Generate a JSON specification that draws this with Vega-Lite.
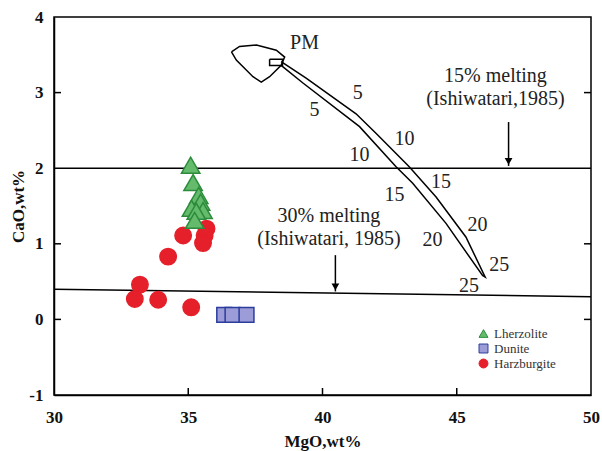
{
  "$schema": "https://vega.github.io/schema/vega-lite/v6.json",
  "width": 537,
  "height": 378,
  "autosize": {"type": "none"},
  "padding": {"left": 54, "top": 17, "right": 11, "bottom": 56},
  "background": "white",
  "config": {
    "view": {"stroke": "black", "strokeWidth": 1.5},
    "font": "Liberation Serif",
    "axis": {"grid": false, "ticks": false, "labelFlush": false, "domainColor": "black", "domainWidth": 1.5, "labelFont": "Liberation Serif", "labelFontWeight": "bold", "labelFontSize": 17, "labelColor": "#111", "titleFont": "Liberation Serif", "titleFontWeight": "bold", "titleFontSize": 17, "titleColor": "#111"}
  },
  "datasets": {
    "pts": [
      {"MgO": 34.81, "CaO": 1.11, "Rock": "Harzburgite"},
      {"MgO": 35.68, "CaO": 1.20, "Rock": "Harzburgite"},
      {"MgO": 35.61, "CaO": 1.11, "Rock": "Harzburgite"},
      {"MgO": 35.55, "CaO": 1.01, "Rock": "Harzburgite"},
      {"MgO": 34.25, "CaO": 0.83, "Rock": "Harzburgite"},
      {"MgO": 33.20, "CaO": 0.46, "Rock": "Harzburgite"},
      {"MgO": 33.01, "CaO": 0.27, "Rock": "Harzburgite"},
      {"MgO": 33.88, "CaO": 0.26, "Rock": "Harzburgite"},
      {"MgO": 35.11, "CaO": 0.16, "Rock": "Harzburgite"},
      {"MgO": 36.34, "CaO": 0.06, "Rock": "Dunite"},
      {"MgO": 36.65, "CaO": 0.06, "Rock": "Dunite"},
      {"MgO": 37.17, "CaO": 0.06, "Rock": "Dunite"},
      {"MgO": 35.09, "CaO": 2.04, "Rock": "Lherzolite"},
      {"MgO": 35.18, "CaO": 1.81, "Rock": "Lherzolite"},
      {"MgO": 35.39, "CaO": 1.64, "Rock": "Lherzolite"},
      {"MgO": 35.46, "CaO": 1.55, "Rock": "Lherzolite"},
      {"MgO": 35.12, "CaO": 1.47, "Rock": "Lherzolite"},
      {"MgO": 35.55, "CaO": 1.44, "Rock": "Lherzolite"},
      {"MgO": 35.30, "CaO": 1.43, "Rock": "Lherzolite"},
      {"MgO": 35.24, "CaO": 1.31, "Rock": "Lherzolite"}
    ],
    "paths": [
      {"g": "h2", "i": 0, "MgO": 30, "CaO": 2.0},
      {"g": "h2", "i": 1, "MgO": 50, "CaO": 2.0},
      {"g": "h0", "i": 0, "MgO": 30, "CaO": 0.40},
      {"g": "h0", "i": 1, "MgO": 50, "CaO": 0.30},
      {"g": "pm", "i": 0, "MgO": 36.61, "CaO": 3.54},
      {"g": "pm", "i": 1, "MgO": 36.91, "CaO": 3.61},
      {"g": "pm", "i": 2, "MgO": 37.54, "CaO": 3.63},
      {"g": "pm", "i": 3, "MgO": 38.28, "CaO": 3.56},
      {"g": "pm", "i": 4, "MgO": 38.59, "CaO": 3.47},
      {"g": "pm", "i": 5, "MgO": 38.46, "CaO": 3.36},
      {"g": "pm", "i": 6, "MgO": 38.03, "CaO": 3.21},
      {"g": "pm", "i": 7, "MgO": 37.72, "CaO": 3.14},
      {"g": "pm", "i": 8, "MgO": 37.41, "CaO": 3.21},
      {"g": "pm", "i": 9, "MgO": 36.79, "CaO": 3.43},
      {"g": "pm", "i": 10, "MgO": 36.61, "CaO": 3.54},
      {"g": "rc", "i": 0, "MgO": 38.03, "CaO": 3.44},
      {"g": "rc", "i": 1, "MgO": 38.51, "CaO": 3.44},
      {"g": "rc", "i": 2, "MgO": 38.51, "CaO": 3.36},
      {"g": "rc", "i": 3, "MgO": 38.03, "CaO": 3.36},
      {"g": "rc", "i": 4, "MgO": 38.03, "CaO": 3.44},
      {"g": "cv", "i": 0, "MgO": 38.46, "CaO": 3.41},
      {"g": "cv", "i": 1, "MgO": 39.39, "CaO": 3.19},
      {"g": "cv", "i": 2, "MgO": 41.25, "CaO": 2.72},
      {"g": "cv", "i": 3, "MgO": 42.00, "CaO": 2.46},
      {"g": "cv", "i": 4, "MgO": 43.23, "CaO": 2.02},
      {"g": "cv", "i": 5, "MgO": 44.23, "CaO": 1.62},
      {"g": "cv", "i": 6, "MgO": 45.34, "CaO": 1.09},
      {"g": "cv", "i": 7, "MgO": 46.06, "CaO": 0.56},
      {"g": "cv", "i": 8, "MgO": 45.96, "CaO": 0.58},
      {"g": "cv", "i": 9, "MgO": 44.60, "CaO": 1.27},
      {"g": "cv", "i": 10, "MgO": 43.36, "CaO": 1.80},
      {"g": "cv", "i": 11, "MgO": 42.74, "CaO": 2.02},
      {"g": "cv", "i": 12, "MgO": 41.38, "CaO": 2.55},
      {"g": "cv", "i": 13, "MgO": 39.26, "CaO": 3.13},
      {"g": "cv", "i": 14, "MgO": 38.46, "CaO": 3.36}
    ],
    "labels": [
      {"MgO": 39.33, "CaO": 3.66, "t": "PM"},
      {"MgO": 41.31, "CaO": 2.99, "t": "5"},
      {"MgO": 39.70, "CaO": 2.77, "t": "5"},
      {"MgO": 43.05, "CaO": 2.39, "t": "10"},
      {"MgO": 41.38, "CaO": 2.17, "t": "10"},
      {"MgO": 44.41, "CaO": 1.82, "t": "15"},
      {"MgO": 42.68, "CaO": 1.64, "t": "15"},
      {"MgO": 45.77, "CaO": 1.25, "t": "20"},
      {"MgO": 44.10, "CaO": 1.05, "t": "20"},
      {"MgO": 46.58, "CaO": 0.72, "t": "25"},
      {"MgO": 45.46, "CaO": 0.44, "t": "25"},
      {"MgO": 46.44, "CaO": 3.22, "t": "15% melting"},
      {"MgO": 46.44, "CaO": 2.92, "t": "(Ishiwatari,1985)"},
      {"MgO": 40.24, "CaO": 1.37, "t": "30% melting"},
      {"MgO": 40.24, "CaO": 1.06, "t": "(Ishiwatari, 1985)"}
    ],
    "arrows": [
      {"MgO": 46.93, "CaO": 2.61, "CaO2": 2.03},
      {"MgO": 40.48, "CaO": 0.85, "CaO2": 0.37}
    ],
    "tips": [
      {"MgO": 46.93, "CaO": 2.09},
      {"MgO": 40.48, "CaO": 0.43}
    ],
    "yticks": [
      {"MgO": 30, "MgO2": 30.26, "CaO": 0},
      {"MgO": 30, "MgO2": 30.26, "CaO": 1},
      {"MgO": 30, "MgO2": 30.26, "CaO": 3},
      {"MgO": 49.74, "MgO2": 50, "CaO": 0},
      {"MgO": 49.74, "MgO2": 50, "CaO": 1},
      {"MgO": 49.74, "MgO2": 50, "CaO": 3}
    ],
    "xticks": [
      {"MgO": 35, "CaO": -1, "CaO2": -0.907},
      {"MgO": 40, "CaO": -1, "CaO2": -0.907},
      {"MgO": 45, "CaO": -1, "CaO2": -0.907}
    ]
  },
  "encoding": {
    "x": {"field": "MgO", "type": "quantitative", "scale": {"domain": [30, 50], "nice": false, "zero": false}, "axis": {"title": "MgO,wt%", "values": [30, 35, 40, 45, 50], "labelExpr": "'' + datum.value", "labelPadding": 14, "titlePadding": 8}},
    "y": {"field": "CaO", "type": "quantitative", "scale": {"domain": [-1, 4], "nice": false, "zero": false}, "axis": {"title": "CaO,wt%", "values": [-1, 0, 1, 2, 3, 4], "labelExpr": "'' + datum.value", "labelPadding": 11, "titlePadding": 1}}
  },
  "layer": [
    {
      "data": {"name": "paths"},
      "mark": {"type": "line", "color": "black", "strokeWidth": 1.5},
      "encoding": {
        "detail": {"field": "g"},
        "order": {"field": "i", "type": "quantitative"}
      }
    },
    {
      "data": {"name": "yticks"},
      "mark": {"type": "rule", "color": "black", "strokeWidth": 1.5},
      "encoding": {"x2": {"field": "MgO2"}}
    },
    {
      "data": {"name": "xticks"},
      "mark": {"type": "rule", "color": "black", "strokeWidth": 1.5},
      "encoding": {"y2": {"field": "CaO2"}}
    },
    {
      "data": {"name": "arrows"},
      "mark": {"type": "rule", "color": "black", "strokeWidth": 1.5},
      "encoding": {
        "y2": {"field": "CaO2"}
      }
    },
    {
      "data": {"name": "tips"},
      "mark": {"type": "point", "shape": "triangle-down", "filled": true, "color": "black", "size": 60, "opacity": 1},
      "encoding": {}
    },
    {
      "data": {"name": "labels"},
      "mark": {"type": "text", "font": "Liberation Serif", "fontSize": 20, "color": "#222", "align": "center", "baseline": "middle"},
      "encoding": {
        "text": {"field": "t"}
      }
    },
    {
      "data": {"name": "pts"},
      "transform": [{"filter": "datum.Rock === 'Harzburgite'"}],
      "mark": {"type": "point", "filled": true, "opacity": 1, "strokeWidth": 1.5, "size": 270},
      "encoding": {
        "shape": {"field": "Rock", "type": "nominal", "scale": {"domain": ["Lherzolite", "Dunite", "Harzburgite"], "range": ["triangle-up", "square", "circle"]}, "legend": {"title": null, "orient": "none", "legendX": 423, "legendY": 310, "labelFont": "Liberation Serif", "labelFontSize": 13, "labelColor": "#333", "symbolSize": 80, "rowPadding": 1, "symbolStrokeWidth": 1}},
        "fill": {"field": "Rock", "type": "nominal", "scale": {"domain": ["Lherzolite", "Dunite", "Harzburgite"], "range": ["#64bb6c", "#9c9cd8", "#e5202a"]}},
        "stroke": {"field": "Rock", "type": "nominal", "scale": {"domain": ["Lherzolite", "Dunite", "Harzburgite"], "range": ["#2d8c3c", "#2b3d9c", "#e5202a"]}}
      }
    },
    {
      "data": {"name": "pts"},
      "transform": [{"filter": "datum.Rock === 'Dunite'"}],
      "mark": {"type": "point", "filled": true, "opacity": 1, "strokeWidth": 1.5, "size": 220},
      "encoding": {
        "shape": {"field": "Rock", "type": "nominal", "scale": {"domain": ["Lherzolite", "Dunite", "Harzburgite"], "range": ["triangle-up", "square", "circle"]}, "legend": {"title": null, "orient": "none", "legendX": 423, "legendY": 310, "labelFont": "Liberation Serif", "labelFontSize": 13, "labelColor": "#333", "symbolSize": 80, "rowPadding": 1, "symbolStrokeWidth": 1}},
        "fill": {"field": "Rock", "type": "nominal", "scale": {"domain": ["Lherzolite", "Dunite", "Harzburgite"], "range": ["#64bb6c", "#9c9cd8", "#e5202a"]}},
        "stroke": {"field": "Rock", "type": "nominal", "scale": {"domain": ["Lherzolite", "Dunite", "Harzburgite"], "range": ["#2d8c3c", "#2b3d9c", "#e5202a"]}}
      }
    },
    {
      "data": {"name": "pts"},
      "transform": [{"filter": "datum.Rock === 'Lherzolite'"}],
      "mark": {"type": "point", "filled": true, "opacity": 1, "strokeWidth": 1.5, "size": 340},
      "encoding": {
        "shape": {"field": "Rock", "type": "nominal", "scale": {"domain": ["Lherzolite", "Dunite", "Harzburgite"], "range": ["triangle-up", "square", "circle"]}, "legend": {"title": null, "orient": "none", "legendX": 423, "legendY": 310, "labelFont": "Liberation Serif", "labelFontSize": 13, "labelColor": "#333", "symbolSize": 80, "rowPadding": 1, "symbolStrokeWidth": 1}},
        "fill": {"field": "Rock", "type": "nominal", "scale": {"domain": ["Lherzolite", "Dunite", "Harzburgite"], "range": ["#64bb6c", "#9c9cd8", "#e5202a"]}},
        "stroke": {"field": "Rock", "type": "nominal", "scale": {"domain": ["Lherzolite", "Dunite", "Harzburgite"], "range": ["#2d8c3c", "#2b3d9c", "#e5202a"]}}
      }
    }
  ]
}
